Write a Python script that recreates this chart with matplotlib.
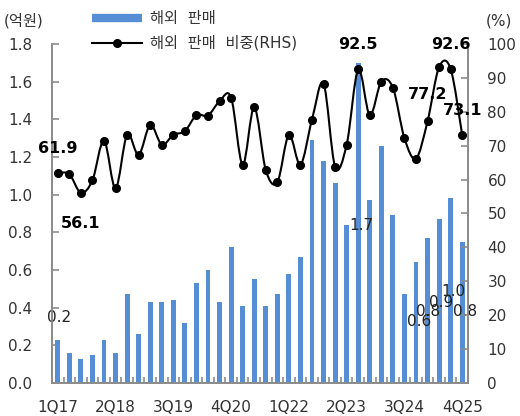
import numpy as np
import matplotlib.pyplot as plt
from matplotlib.path import Path
from matplotlib.patches import PathPatch
from matplotlib.lines import Line2D

plt.rcParams['font.family'] = ['DejaVu Sans', 'Noto Sans CJK KR']

# quarters 1Q17 .. 4Q25
quarters = ["{}Q{}".format(q, y) for y in range(17, 26) for q in range(1, 5)]
tick_labels = ['1Q17', '2Q18', '3Q19', '4Q20', '1Q22', '2Q23', '3Q24', '4Q25']

# 해외 판매 (억원)
overseas_sales = [0.23, 0.16, 0.13, 0.15, 0.23, 0.16, 0.47, 0.26, 0.43, 0.43,
                  0.44, 0.32, 0.53, 0.60, 0.43, 0.72, 0.41, 0.55, 0.41, 0.47,
                  0.58, 0.67, 1.29, 1.18, 1.06, 0.84, 1.70, 0.97, 1.26, 0.89,
                  0.47, 0.64, 0.77, 0.87, 0.98, 0.75]

# 해외 판매 비중 (%, RHS)
overseas_share = [61.9, 61.6, 56.1, 59.8, 71.5, 57.4, 73.2, 67.3, 76.1, 70.3,
                  73.2, 74.3, 79.0, 78.9, 83.1, 84.2, 64.4, 81.3, 62.8, 59.2,
                  73.2, 64.4, 77.7, 88.3, 63.8, 70.3, 92.5, 79.0, 88.9, 87.1,
                  72.2, 66.2, 77.2, 93.2, 92.6, 73.1]

# labelled points on the share line: (index, offset in points)
share_label_idx = [0, 2, 26, 32, 34, 35]
share_label_dy = [18, -22, 18, 19, 18, 18]

# labels on bars, as placed in the original
bar_label_idx = [0, 26, 31, 32, 33, 34, 35]
bar_label_text = ['0.2', '1.7', '0.6', '0.8', '0.9', '1.0', '0.8']
bar_label_dx = [0.1, 0.24, 0.26, 0.04, 0.16, 0.2, 0.24]
bar_label_y = [0.347, 0.837, 0.327, 0.38, 0.427, 0.485, 0.38]

bar_color = '#558ed5'
axis_color = '#8c8c8c'
text_color = '#333333'


def smooth_path(xs, ys):
    # catmull-rom style smoothing, like excel's smoothed line
    pts = np.column_stack([xs, ys]).astype(float)
    n = len(pts)
    verts = [pts[0]]
    codes = [Path.MOVETO]
    for i in range(n - 1):
        p0 = pts[max(i - 1, 0)]
        p1 = pts[i]
        p2 = pts[i + 1]
        p3 = pts[min(i + 2, n - 1)]
        verts += [p1 + (p2 - p0) / 6, p2 - (p3 - p1) / 6, p2]
        codes += [Path.CURVE4] * 3
    return Path(verts, codes)


fig = plt.figure(figsize=(5.2, 4.16), dpi=100)
ax = fig.add_axes([0.1, 0.0793, 0.8, 0.815])
ax2 = ax.twinx()

x = np.arange(len(quarters))
ax.bar(x, overseas_sales, width=0.42, color=bar_color, zorder=2)

ax2.add_patch(PathPatch(smooth_path(x, overseas_share), fill=False,
                        edgecolor='black', lw=1.5, zorder=3))
ax2.plot(x, overseas_share, ls='none', marker='o', ms=5.5, color='black', zorder=4)

for i, dy in zip(share_label_idx, share_label_dy):
    ax2.annotate("{:.1f}".format(overseas_share[i]), (x[i], overseas_share[i]),
                 xytext=(0, dy), textcoords='offset points', ha='center',
                 va='center', fontsize=11.5, fontweight='bold', color='black')

for i, t, dx, yy in zip(bar_label_idx, bar_label_text, bar_label_dx, bar_label_y):
    ax.text(x[i] + dx, yy, t, ha='center', va='center', fontsize=11,
            color='#222222', zorder=5)

ax.set_xlim(-0.5, len(quarters) - 0.5)
ax.set_ylim(0, 1.8)
ax2.set_ylim(0, 100)

ax.set_xticks([quarters.index(t) for t in tick_labels])
ax.set_xticklabels(tick_labels)
ax.set_xticks(np.arange(-0.5, len(quarters)), minor=True)
ax.tick_params(axis='x', which='major', length=0, pad=12, labelsize=11,
               labelcolor=text_color)
ax.tick_params(axis='x', which='minor', length=4, direction='in',
               color=axis_color, width=1.2)

ax.set_yticks(np.arange(0, 1.81, 0.2))
ax.set_yticklabels(["{:.1f}".format(v) for v in np.arange(0, 1.81, 0.2)])
ax.tick_params(axis='y', direction='in', length=5, pad=14, labelsize=11,
               labelcolor=text_color, color=axis_color, width=1.2)
ax2.set_yticks(np.arange(0, 101, 10))
ax2.tick_params(axis='y', direction='in', length=5, pad=14, labelsize=11,
                labelcolor=text_color, color=axis_color, width=1.2)

for a in (ax, ax2):
    a.spines['top'].set_visible(False)
    for s in ('left', 'right', 'bottom'):
        a.spines[s].set_color(axis_color)
        a.spines[s].set_linewidth(1.3)

handles = [Line2D([], [], color=bar_color, lw=6, solid_capstyle='butt'),
           Line2D([], [], color='black', lw=1.5, marker='o', ms=5.5)]
fig.legend(handles, ['해외  판매', '해외  판매  비중(RHS)'], loc='upper left',
           bbox_to_anchor=(92 / 520, 1 - 11 / 416), frameon=False, fontsize=11,
           handlelength=3.3, handletextpad=0.5, borderpad=0, borderaxespad=0,
           labelspacing=0.62, labelcolor=text_color)

fig.text(4 / 520, 1 - 21 / 416, '(억원)', ha='left', va='center', fontsize=11,
         color=text_color)
fig.text(486 / 520, 1 - 21 / 416, '(%)', ha='left', va='center', fontsize=11,
         color=text_color)

fig.savefig('out.png', dpi=100)
